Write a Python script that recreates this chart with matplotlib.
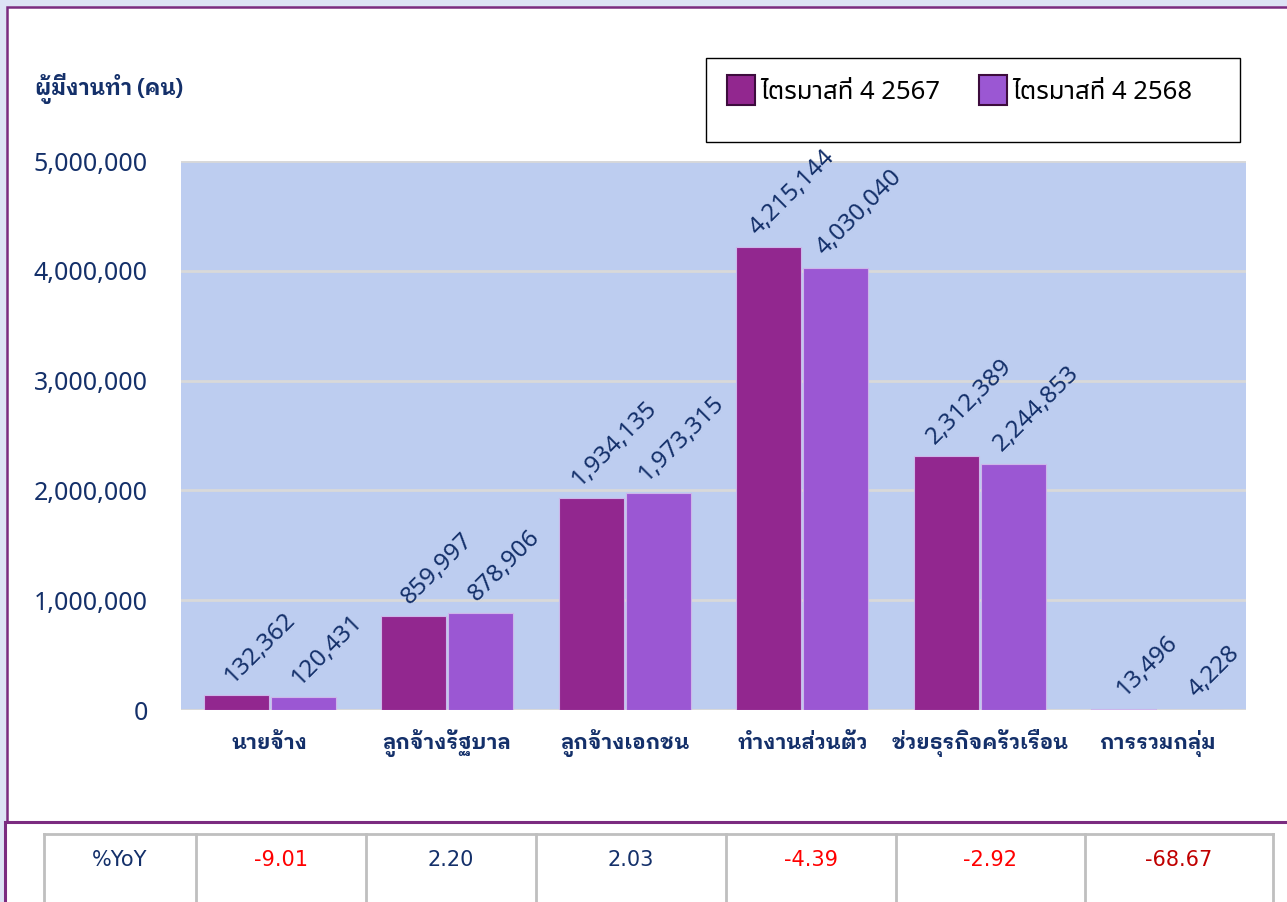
"""
Chart: employed persons by work status, Q4 2567 vs Q4 2568, with %YoY table below.
"""
import matplotlib
matplotlib.use("Agg")
import matplotlib.pyplot as plt
from matplotlib.patches import Rectangle, Patch
from matplotlib.ticker import FuncFormatter, MultipleLocator

# ---------------------------------------------------------------------------
# Data
# ---------------------------------------------------------------------------
categories = ["นายจ้าง", "ลูกจ้างรัฐบาล", "ลูกจ้างเอกชน",
              "ทำงานส่วนตัว", "ช่วยธุรกิจครัวเรือน", "การรวมกลุ่ม"]
series_names = ["ไตรมาสที่ 4 2567", "ไตรมาสที่ 4 2568"]
q4_2567 = [132362, 859997, 1934135, 4215144, 2312389, 13496]
q4_2568 = [120431, 878906, 1973315, 4030040, 2244853, 4228]
yoy_label = "%YoY"
yoy = [-9.01, 2.20, 2.03, -4.39, -2.92, -68.67]
y_label = "ผู้มีงานทำ (คน)"

# ---------------------------------------------------------------------------
# Style
# ---------------------------------------------------------------------------
W, H = 1287, 902
THAI = ["Noto Sans Thai UI", "Noto Sans", "DejaVu Sans"]
THAI_BOLD = ["IBM Plex Sans Thai Looped", "Noto Sans Thai", "DejaVu Sans"]
TABLE = ["DejaVu Sans"]
NAVY = "#14306a"
C_DARK = "#92278f"
C_LIGHT = "#9b57d3"
PLOT_BG = "#bdcdf0"
GRID = "#d9d9d9"
FRAME = "#7b2c80"
OUTER = "#dde3f5"

plt.rcParams["font.family"] = THAI

fig = plt.figure(figsize=(W / 100, H / 100), dpi=100, facecolor=OUTER)

# background canvas in pixel coordinates
bg = fig.add_axes([0, 0, 1, 1], zorder=0)
bg.set_xlim(0, W)
bg.set_ylim(H, 0)
bg.axis("off")

bg.add_patch(Rectangle((7, 7), W, 822 - 7, facecolor="white",
                       edgecolor=FRAME, lw=1.8))
bg.add_patch(Rectangle((4.5, 822), W, 100, facecolor="white",
                       edgecolor=FRAME, lw=2.2))

# y-axis title
bg.text(35, 88, y_label, ha="left", va="center", fontsize=15.5,
        fontweight="bold", family=THAI_BOLD, color=NAVY)

# legend frame
bg.add_patch(Rectangle((706, 58), 534, 84, facecolor="white",
                       edgecolor="black", lw=1.0))

# ---------------------------------------------------------------------------
# Main chart
# ---------------------------------------------------------------------------
ax = fig.add_axes([181 / W, 1 - 710 / H, (1246 - 181) / W, (710 - 161) / H],
                  zorder=1)
ax.set_facecolor(PLOT_BG)

x = list(range(len(categories)))
bw = 0.366
off = 0.189
b1 = ax.bar([i - off for i in x], q4_2567, width=bw, color=C_DARK,
            edgecolor="#cdb6ea", lw=0.8, zorder=3)
b2 = ax.bar([i + off for i in x], q4_2568, width=bw, color=C_LIGHT,
            edgecolor="#cdb6ea", lw=0.8, zorder=3)

for bars, vals in ((b1, q4_2567), (b2, q4_2568)):
    for rect, v in zip(bars, vals):
        ax.annotate(f"{v:,}", (rect.get_x() + rect.get_width() / 2, v),
                    xytext=(17, 5), textcoords="offset points",
                    ha="center", va="bottom", rotation=45,
                    fontsize=17.5, color=NAVY, zorder=4)

ax.set_xlim(-0.5, len(categories) - 0.5)
ax.set_ylim(0, 5_000_000)
ax.yaxis.set_major_locator(MultipleLocator(1_000_000))
ax.yaxis.set_major_formatter(FuncFormatter(lambda v, _: f"{v:,.0f}"))
ax.grid(axis="y", color=GRID, lw=2, zorder=1)
ax.set_axisbelow(True)
for s in ax.spines.values():
    s.set_visible(False)
ax.axhline(0, color=GRID, lw=2, zorder=2)

ax.set_xticks(x)
ax.set_xticklabels(categories, fontsize=15, fontweight="bold",
                   family=THAI_BOLD, color=NAVY)
for lbl in ax.get_xticklabels():
    lbl.set_verticalalignment("baseline")
ax.tick_params(axis="x", length=0, pad=28)
ax.tick_params(axis="y", length=0, pad=24, labelsize=18, labelcolor=NAVY)

# legend
handles = [Patch(facecolor=C_DARK, edgecolor="#3d0c3d", lw=1.5),
           Patch(facecolor=C_LIGHT, edgecolor="#3d0c3d", lw=1.5)]
fig.legend(handles, series_names, loc="upper left",
           bbox_to_anchor=(709 / W, 1 - 57 / H), ncol=2, frameon=False,
           fontsize=18.5, handlelength=1.1, handleheight=1.45,
           handletextpad=0.2, columnspacing=1.5, borderpad=0.2)

# ---------------------------------------------------------------------------
# %YoY table
# ---------------------------------------------------------------------------
col_edges = [44, 196, 366, 536, 726, 896, 1085, 1273]
bg.plot([col_edges[0], col_edges[-1]], [834, 834], color="#bfbfbf", lw=2)
for xe in col_edges:
    bg.plot([xe, xe], [834, H + 2], color="#bfbfbf", lw=2)

cells = [yoy_label] + [f"{v:.2f}" for v in yoy]
colors = [NAVY] + [("#c00000" if v < -50 else "#ff0000") if v < 0 else NAVY
                   for v in yoy]
for k, (txt, col) in enumerate(zip(cells, colors)):
    cx = (col_edges[k] + col_edges[k + 1]) / 2
    bg.text(cx, 860, txt, ha="center", va="center", fontsize=15,
            family=TABLE, color=col)

fig.savefig("out.png", dpi=100, facecolor=fig.get_facecolor())
